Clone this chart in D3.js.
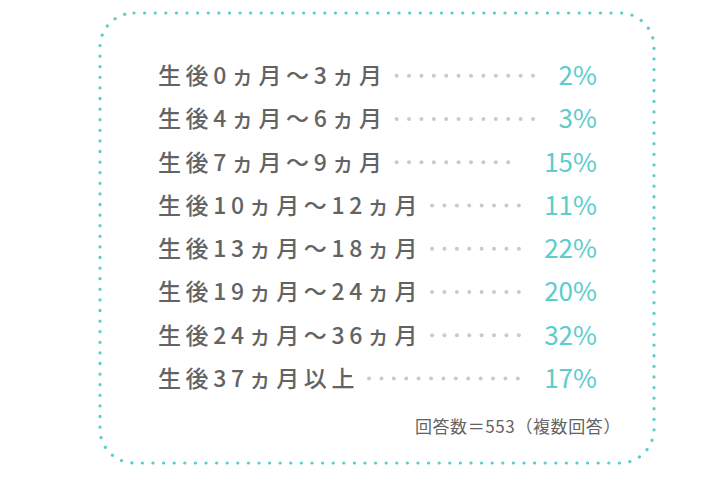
<!DOCTYPE html>
<html><head><meta charset="utf-8">
<script src="https://cdn.jsdelivr.net/npm/d3@7"></script>
<style>
html,body{margin:0;padding:0;background:#fff;}
text{font-family:"Noto Sans CJK JP","Noto Sans",sans-serif;}
</style></head>
<body>
<svg id="chart" width="720" height="477"></svg>
<script>
const categories = ["生後0ヵ月～3ヵ月","生後4ヵ月～6ヵ月","生後7ヵ月～9ヵ月","生後10ヵ月～12ヵ月","生後13ヵ月～18ヵ月","生後19ヵ月～24ヵ月","生後24ヵ月～36ヵ月","生後37ヵ月以上"];
const values = [2,3,15,11,22,20,32,17];
const note = "回答数＝553（複数回答）";

const svg = d3.select("#chart");
const teal = "#5ccccc", gray = "#636363", dotGray = "#cacaca";

// frame
svg.append("rect").attr("x",100).attr("y",13).attr("width",554).attr("height",450)
  .attr("rx",34).attr("ry",34).attr("fill","none").attr("stroke",teal)
  .attr("stroke-width",3.2).attr("stroke-linecap","round").attr("stroke-dasharray","0.1 10.5");

const y = d3.scaleBand().domain(categories).range([54,400]).paddingInner(0).paddingOuter(0);
const labelX = 158, pctRight = 597;

const rows = svg.selectAll("g.row").data(categories).join("g").attr("class","row")
  .attr("transform", d => `translate(0,${y(d)+y.bandwidth()/2})`);

rows.append("text").attr("x",labelX).attr("y",8.5)
  .attr("font-size",23).attr("font-weight",500).attr("fill",gray).attr("letter-spacing",4.6)
  .text(d=>d);

rows.append("text").attr("class","pct").attr("x",pctRight).attr("y",9.5)
  .attr("text-anchor","end").attr("font-size",26).attr("font-weight",400).attr("fill",teal)
  .text((d,i)=>values[i]+"%");

rows.each(function(){
  const g = d3.select(this);
  const lb = g.select("text").node().getBBox();
  const pb = g.select("text.pct").node().getBBox();
  const x0 = lb.x + lb.width + 10, x1 = pb.x - 24;
  const step = 12.4;
  const n = Math.floor((x1-x0)/step)+1;
  g.selectAll("circle").data(d3.range(n)).join("circle")
    .attr("cx", i => x0 + i*step).attr("cy",0).attr("r",2).attr("fill",dotGray);
});

svg.append("text").attr("x",621).attr("y",433).attr("text-anchor","end")
  .attr("font-size",17).attr("fill",gray).attr("letter-spacing",0.6).text(note);
</script>
</body></html>
